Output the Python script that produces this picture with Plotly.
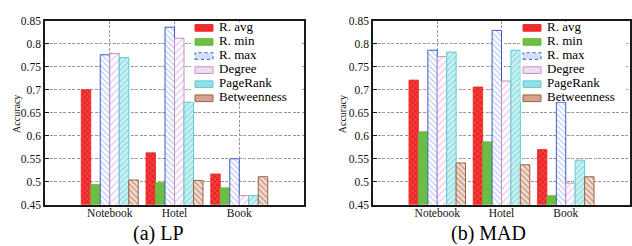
import plotly.graph_objects as go

# ---------------- data ----------------
categories = ["Notebook", "Hotel", "Book"]
series_names = ["R. avg", "R. min", "R. max", "Degree", "PageRank", "Betweenness"]

lp_r_avg = [0.700, 0.563, 0.517]
lp_r_min = [0.494, 0.498, 0.487]
lp_r_max = [0.776, 0.836, 0.550]
lp_degree = [0.779, 0.812, 0.470]
lp_pagerank = [0.770, 0.673, 0.470]
lp_betweenness = [0.504, 0.503, 0.511]

mad_r_avg = [0.721, 0.706, 0.570]
mad_r_min = [0.609, 0.587, 0.470]
mad_r_max = [0.786, 0.829, 0.673]
mad_degree = [0.772, 0.719, 0.497]
mad_pagerank = [0.782, 0.786, 0.547]
mad_betweenness = [0.541, 0.537, 0.511]

y_tick_vals = [0.45, 0.5, 0.55, 0.6, 0.65, 0.7, 0.75, 0.8, 0.85]
y_tick_text = ["0.45", "0.5", "0.55", "0.6", "0.65", "0.7", "0.75", "0.8", "0.85"]

captions = ["(a) LP", "(b) MAD"]
y_title = "Accuracy"

lp_series = [lp_r_avg, lp_r_min, lp_r_max, lp_degree, lp_pagerank, lp_betweenness]
mad_series = [mad_r_avg, mad_r_min, mad_r_max, mad_degree, mad_pagerank, mad_betweenness]

# ---------------- styles ----------------
W, H = 632, 246
FONT = "Liberation Serif, Times New Roman, Times, DejaVu Serif, serif"


def px(x):
    return x / W


def py(y):
    return 1 - y / H


bar_styles = [
    dict(color="#ee2424", pattern=dict(shape="x", fgcolor="#ffffff", fgopacity=0.55, bgcolor="#ee2424", size=4, solidity=0.15),
         line=dict(color="#ee2424", width=0.8)),
    dict(color="#6cbd44", line=dict(color="#6cbd44", width=0.8)),
    dict(color="#ffffff", pattern=dict(shape="\\", fgcolor="#5577d0", bgcolor="#ffffff", size=4, solidity=0.25),
         line=dict(color="#3b5fc8", width=1)),
    dict(color="#ffffff", pattern=dict(shape="/", fgcolor="#dba8dd", bgcolor="#ffffff", size=5, solidity=0.35),
         line=dict(color="#c88ccb", width=1)),
    dict(color="#8fe0e6", pattern=dict(shape="/", fgcolor="#5ccdd6", bgcolor="#d4f4f6", size=4, solidity=0.5),
         line=dict(color="#5ccdd6", width=1)),
    dict(color="#c79a82", pattern=dict(shape="\\", fgcolor="#a35c3c", bgcolor="#f3e2d8", size=4, solidity=0.45),
         line=dict(color="#a35f40", width=1)),
]

swatch_styles = [
    dict(fill="#ee2a2a", line="#ee2a2a", dash="solid"),
    dict(fill="#6cbd44", line="#6cbd44", dash="solid"),
    dict(fill="#d6def5", line="#3b5fc8", dash="dot"),
    dict(fill="#f1dcf2", line="#c88ccb", dash="solid"),
    dict(fill="#8fe0e6", line="#5ccdd6", dash="solid"),
    dict(fill="#d2a48c", line="#a35f40", dash="solid"),
]

fig = go.Figure()

for sub, series in enumerate([lp_series, mad_series]):
    xa = "x" if sub == 0 else "x2"
    ya = "y" if sub == 0 else "y2"
    for name, vals, st in zip(series_names, series, bar_styles):
        fig.add_trace(go.Bar(
            x=categories, y=vals, name=name, xaxis=xa, yaxis=ya,
            marker=st, showlegend=False,
        ))

axis_common = dict(
    showline=True, linecolor="#1a1a1a", linewidth=1.5, mirror=True,
    showgrid=True, gridcolor="#9a9a9a", gridwidth=1, griddash="3px,1.5px",
    zeroline=False,
    tickfont=dict(family=FONT, size=11.5, color="#111"),
)

plot_left = [45, 373]
plot_right = [304, 630]
plot_top, plot_bottom = 15.5, 209

for i in range(2):
    sfx = "" if i == 0 else "2"
    fig.update_layout(**{
        "xaxis" + sfx: dict(
            axis_common, type="category", range=[-1, 3],
            domain=[px(plot_left[i]), px(plot_right[i])],
            anchor="y" + sfx, ticks="", ticklabelstandoff=-3,
        ),
        "yaxis" + sfx: dict(
            axis_common, range=[0.45, 0.85],
            domain=[py(plot_bottom), py(plot_top)],
            anchor="x" + sfx, tickvals=y_tick_vals, ticktext=y_tick_text,
            ticks="inside", ticklen=4, tickcolor="#1a1a1a", tickwidth=1,
            ticklabelstandoff=0,
        ),
    })

shapes = []
annotations = []

# legend backgrounds, swatches and labels
legend_swatch_x = [195, 523]
legend_text_x = [217, 545]
legend_box = [(191, 300), (520.5, 626)]
baseline0, row_step = 25.5, 14.8
legend_font_size = 13

for i in range(2):
    bx0, bx1 = legend_box[i]
    last_b = baseline0 + row_step * (len(series_names) - 1)
    shapes.append(dict(type="rect", xref="paper", yref="paper", layer="above",
                       x0=px(bx0), x1=px(bx1), y0=py(16.8), y1=py(last_b + 1.5),
                       fillcolor="#ffffff", line=dict(width=0)))
    for k, (name, sw) in enumerate(zip(series_names, swatch_styles)):
        b = baseline0 + row_step * k
        shapes.append(dict(type="rect", xref="paper", yref="paper", layer="above",
                           x0=px(legend_swatch_x[i]), x1=px(legend_swatch_x[i] + 18),
                           y0=py(b + 1.0), y1=py(b - 6.0),
                           fillcolor=sw["fill"], line=dict(color=sw["line"], width=1, dash=sw["dash"])))
        annotations.append(dict(text=name, xref="paper", yref="paper",
                                x=px(legend_text_x[i]), y=py(b - 0.3375 * legend_font_size),
                                xanchor="left", yanchor="middle", showarrow=False,
                                font=dict(family=FONT, size=legend_font_size, color="#000")))

# y-axis titles
for xc in [17, 343.3]:
    annotations.append(dict(text=y_title, xref="paper", yref="paper", x=px(xc), y=py(113.5),
                            xanchor="center", yanchor="middle", textangle=-90, showarrow=False,
                            font=dict(family=FONT, size=10, color="#111")))

# captions
for cap, xc in zip(captions, [158, 488]):
    annotations.append(dict(text=cap, xref="paper", yref="paper", x=px(xc), y=py(239.5),
                            xanchor="center", yanchor="middle", showarrow=False,
                            font=dict(family=FONT, size=20, color="#000")))

fig.update_layout(
    width=W, height=H, margin=dict(l=0, r=0, t=0, b=0),
    paper_bgcolor="#ffffff", plot_bgcolor="#ffffff",
    barmode="group", bargap=0.12, bargroupgap=0,
    showlegend=False, shapes=shapes, annotations=annotations,
    font=dict(family=FONT),
)

fig.write_html(
    "out.html",
    config={"displayModeBar": False},
    post_script="document.body.style.margin='0';document.body.style.overflow='hidden';",
)
